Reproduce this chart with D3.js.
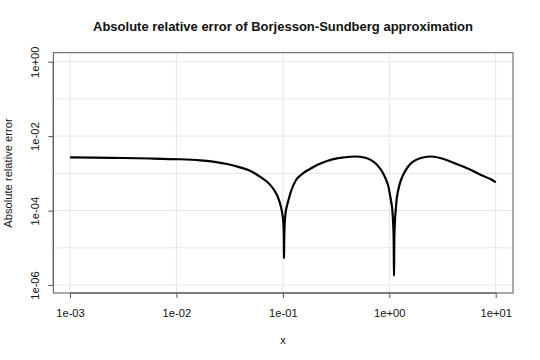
<!DOCTYPE html>
<html>
<head>
<meta charset="utf-8">
<script src="https://cdn.jsdelivr.net/npm/d3@7"></script>
<style>
  html, body { margin: 0; padding: 0; background: #fff; }
  svg { display: block; font-family: "Liberation Sans", Arial, Helvetica, sans-serif; }
</style>
</head>
<body>
<svg id="chart" width="540" height="360"></svg>
<script>
// ---- data ----
const xValues = [0.001, 0.00238, 0.00565, 0.0108, 0.0167, 0.0221, 0.0299, 0.0396, 0.0491, 0.0610, 0.0710, 0.0808, 0.0881, 0.0940, 0.0982, 0.1010, 0.1021, 0.1025, 0.1032, 0.1043, 0.1070, 0.1130, 0.1193, 0.1260, 0.1358, 0.1546, 0.1799, 0.2094, 0.2600, 0.3228, 0.4276, 0.476, 0.5306, 0.6177, 0.7188, 0.8181, 0.8920, 0.9728, 1.0158, 1.0607, 1.0839, 1.0982, 1.1077, 1.1173, 1.1318, 1.1565, 1.1818, 1.2341, 1.2887, 1.3751, 1.4996, 1.6710, 1.9443, 2.2623, 2.44, 2.6320, 3.0625, 3.8019, 4.7206, 5.8614, 7.2778, 9.0339, 10];
const errValues = [0.0027, 0.00262, 0.00251, 0.00239, 0.00224, 0.00206, 0.00178, 0.00145, 0.00118, 0.000813, 0.000596, 0.000397, 0.000262, 0.000157, 0.0000932, 0.0000493, 0.0000221, 0.00000522, 0.0000221, 0.0000493, 0.0001035, 0.000192, 0.000330, 0.000490, 0.000720, 0.001003, 0.001309, 0.001677, 0.002147, 0.002537, 0.00279, 0.00284, 0.00279, 0.002537, 0.002000, 0.001367, 0.000903, 0.000486, 0.000262, 0.000127, 0.0000558, 0.0000221, 0.00000175, 0.0000221, 0.0000558, 0.000127, 0.000236, 0.000438, 0.000663, 0.001003, 0.001509, 0.002056, 0.002537, 0.00279, 0.00284, 0.00279, 0.002537, 0.002056, 0.001606, 0.00123, 0.000903, 0.000692, 0.000575];
const xTicks = [1e-3, 1e-2, 1e-1, 1e0, 1e1];
const xTickLabels = ["1e-03", "1e-02", "1e-01", "1e+00", "1e+01"];
const yTicks = [1e0, 1e-2, 1e-4, 1e-6];
const yTickLabels = ["1e+00", "1e-02", "1e-04", "1e-06"];
const yGridValues = [1e0, 1e-1, 1e-2, 1e-3, 1e-4, 1e-5, 1e-6];
const titleText = "Absolute relative error of Borjesson-Sundberg approximation";
const xTitle = "x";
const yTitle = "Absolute relative error";

// ---- layout ----
const box = { left: 53.3, right: 513, top: 52.7, bottom: 293 };
const svg = d3.select("#chart");

const x = d3.scaleLog().domain([1e-3, 1e1]).range([70, 495.7]);
const y = d3.scaleLog().domain([1e-6, 1]).range([285, 61.7]);

// grid
const grid = svg.append("g").attr("stroke", "#e6e6e6").attr("stroke-width", 1);
grid.selectAll("line.v").data(xTicks).join("line")
  .attr("class", "v")
  .attr("x1", d => x(d)).attr("x2", d => x(d))
  .attr("y1", box.top).attr("y2", box.bottom);
grid.selectAll("line.h").data(yGridValues).join("line")
  .attr("class", "h")
  .attr("x1", box.left).attr("x2", box.right)
  .attr("y1", d => y(d)).attr("y2", d => y(d));

// curve
const pts = xValues.map((v, i) => [v, errValues[i]]);
svg.append("path")
  .datum(pts)
  .attr("fill", "none")
  .attr("stroke", "#000")
  .attr("stroke-width", 2.2)
  .attr("stroke-linejoin", "round")
  .attr("d", d3.line().x(d => x(d[0])).y(d => y(d[1])).curve(d3.curveCatmullRom.alpha(0.5)));

// box
svg.append("rect")
  .attr("x", box.left).attr("y", box.top)
  .attr("width", box.right - box.left).attr("height", box.bottom - box.top)
  .attr("fill", "none").attr("stroke", "#555").attr("stroke-width", 1);

// x axis
const xAxis = svg.append("g")
  .attr("transform", `translate(0,${box.bottom})`)
  .call(d3.axisBottom(x).tickValues(xTicks).tickSize(5).tickSizeOuter(0)
    .tickFormat((d, i) => xTickLabels[i]));
xAxis.select(".domain").attr("d", `M${x(xTicks[0])},0H${x(xTicks[xTicks.length-1])}`).attr("stroke", "#555");
xAxis.selectAll(".tick line").attr("stroke", "#555");
xAxis.selectAll(".tick text")
  .attr("y", 24).attr("dy", 0)
  .attr("font-size", 11.2).attr("fill", "#111")
  .attr("font-family", "Liberation Sans, Arial, sans-serif");

// y axis
const yAxis = svg.append("g")
  .attr("transform", `translate(${box.left},0)`)
  .call(d3.axisLeft(y).tickValues(yTicks).tickSize(5).tickSizeOuter(0)
    .tickFormat((d, i) => yTickLabels[i]));
yAxis.select(".domain").attr("d", `M0,${y(yTicks[0])}V${y(yTicks[yTicks.length-1])}`).attr("stroke", "#555");
yAxis.selectAll(".tick line").attr("stroke", "#555");
yAxis.selectAll(".tick text")
  .attr("x", null).attr("dy", null)
  .attr("transform", "translate(-14,0) rotate(-90)")
  .attr("text-anchor", "middle")
  .attr("y", 0)
  .attr("font-size", 11.2).attr("fill", "#111")
  .attr("font-family", "Liberation Sans, Arial, sans-serif");

// titles
svg.append("text")
  .attr("x", 283).attr("y", 31)
  .attr("text-anchor", "middle")
  .attr("font-weight", "bold").attr("font-size", 13).attr("fill", "#111")
  .text(titleText);
svg.append("text")
  .attr("x", 283).attr("y", 344)
  .attr("text-anchor", "middle")
  .attr("font-size", 11.2).attr("fill", "#111")
  .text(xTitle);
svg.append("text")
  .attr("transform", `translate(12,173) rotate(-90)`)
  .attr("text-anchor", "middle")
  .attr("font-size", 11.2).attr("fill", "#111")
  .text(yTitle);
</script>
</body>
</html>
